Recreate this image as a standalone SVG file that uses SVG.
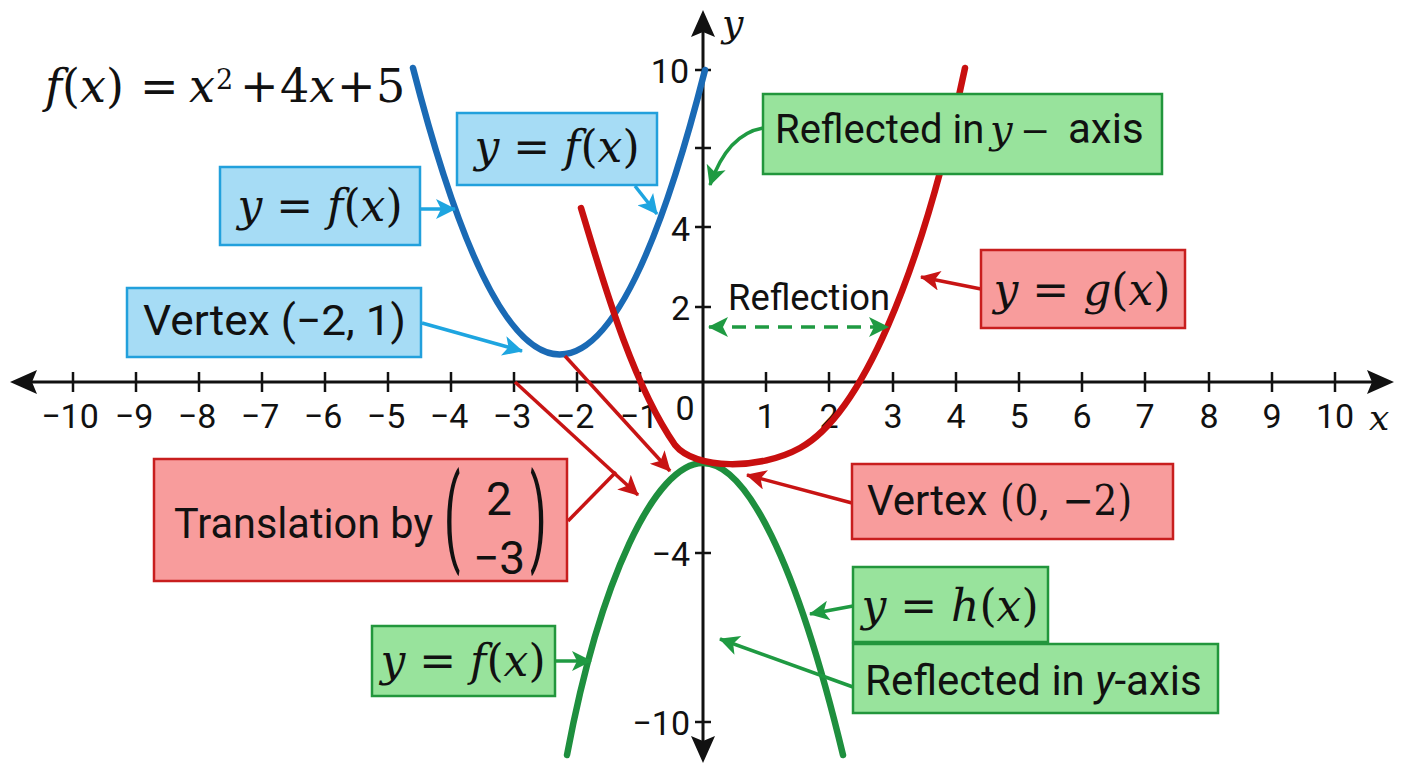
<svg xmlns="http://www.w3.org/2000/svg" width="1408" height="768" viewBox="0 0 1408 768">
<style>
.s{font-family:Roboto,'Liberation Sans',sans-serif;fill:#111}
.m{font-family:'DejaVu Serif','Liberation Serif',serif;fill:#111}
.i{font-style:italic}
.tick{stroke:#111;stroke-width:2.5;fill:none}
.lab{font-family:Roboto,'Liberation Sans',sans-serif;font-size:34px;fill:#111}
.bbox{fill:#a6dcf5;stroke:#22a0dc;stroke-width:2.5}
.rbox{fill:#f89c9c;stroke:#c81e1e;stroke-width:2.5}
.gbox{fill:#98e39c;stroke:#22963c;stroke-width:2.5}
.ab{stroke:#1ea5e0;stroke-width:3.5;fill:none;marker-end:url(#mb)}
.ar{stroke:#c81414;stroke-width:3.5;fill:none;marker-end:url(#mr)}
.ag{stroke:#1f9a42;stroke-width:3.5;fill:none;marker-end:url(#mg)}
.curve{fill:none;stroke-width:6.5;stroke-linecap:round}
</style>
<defs>
<marker id="mb" viewBox="0 0 10 10" refX="9.5" refY="5" markerWidth="24" markerHeight="20" markerUnits="userSpaceOnUse" orient="auto"><path d="M0,0 L10,5 L0,10 L2.5,5 z" fill="#1ea5e0"/></marker>
<marker id="mr" viewBox="0 0 10 10" refX="9.5" refY="5" markerWidth="24" markerHeight="20" markerUnits="userSpaceOnUse" orient="auto"><path d="M0,0 L10,5 L0,10 L2.5,5 z" fill="#c81414"/></marker>
<marker id="mg" viewBox="0 0 10 10" refX="9.5" refY="5" markerWidth="24" markerHeight="20" markerUnits="userSpaceOnUse" orient="auto-start-reverse"><path d="M0,0 L10,5 L0,10 L2.5,5 z" fill="#1f9a42"/></marker>
</defs>
<rect width="1408" height="768" fill="#ffffff"/>

<g id="axes">
<path d="M30,382 H1372 M703,32 V741" stroke="#111" stroke-width="3" fill="none"/>
<path d="M10,382 L37,370 L32,382 L37,394 z M1394,382 L1367,370 L1372,382 L1367,394 z M703,10 L691,37 L703,32 L715,37 z M703,763 L691,736 L703,741 L715,736 z" fill="#111"/>
<path class="tick" d="M73,372V392M136,372V392M199,372V392M262,372V392M325,372V392M388,372V392M451,372V392M514,372V392M577,372V392M640,372V392M766,372V392M829,372V392M893,372V392M956,372V392M1019,372V392M1082,372V392M1145,372V392M1209,372V392M1272,372V392M1335,372V392"/>
<path class="tick" d="M695,70H711M695,148H711M695,227H711M695,307H711M695,553H711M695,722H711"/>
<g class="lab" text-anchor="middle">
<text x="70" y="428">−10</text><text x="134" y="428">−9</text><text x="197" y="428">−8</text><text x="260" y="428">−7</text><text x="323" y="428">−6</text><text x="386" y="428">−5</text><text x="449" y="428">−4</text><text x="512" y="428">−3</text><text x="575" y="428">−2</text><text x="639" y="428">−1</text>
<text x="685" y="420">0</text>
<text x="766" y="428">1</text><text x="829" y="428">2</text><text x="893" y="428">3</text><text x="956" y="428">4</text><text x="1019" y="428">5</text><text x="1082" y="428">6</text><text x="1145" y="428">7</text><text x="1209" y="428">8</text><text x="1272" y="428">9</text><text x="1335" y="428">10</text>
</g>
<g class="lab" text-anchor="end">
<text x="689" y="83">10</text><text x="690" y="241">4</text><text x="690" y="320">2</text><text x="690" y="566">−4</text><text x="690" y="735">−10</text>
</g>
<text class="m i" x="722" y="36" font-size="38">y</text>
<text class="m i" x="1369" y="430" font-size="36">x</text>
</g>

<g id="curves">
<path id="curve-f" class="curve" stroke="#1a6ab5" d="M413,68 Q560,640 705,70"/>
<path id="curve-h" class="curve" stroke="#1e8f3e" d="M567,755 C600,580 655,463 703,463 C746,463 796,560 843,755"/>
<path id="curve-g" class="curve" stroke="#c80f0f" d="M581,208 C600,270 630,380 675,445 C695,470 760,470 800,448 C860,415 920,280 965,68"/>
</g>

<g id="connectors">
<path class="ab" d="M420,209 L455,209"/>
<path class="ab" d="M635,186 L657,214"/>
<path class="ab" d="M422,323 L522,351"/>
<path class="ar" d="M981,289 L921,277"/>
<path class="ar" d="M515,382 L638,495"/>
<path class="ar" d="M565,356 L670,471"/>
<path d="M568,521 L616,472" stroke="#c81414" stroke-width="3.5" fill="none"/>
<path class="ar" d="M852,503 L747,475"/>
<path class="ag" d="M763,128 C740,132 722,150 710,185"/>
<path d="M709,327 L888,327" stroke="#1f9a42" stroke-width="3.5" stroke-dasharray="14 9" fill="none" marker-start="url(#mg)" marker-end="url(#mg)"/>
<path class="ag" d="M853,606 L810,614"/>
<path class="ag" d="M853,687 L720,639"/>
<path class="ag" d="M555,661 L591,661"/>
</g>

<g id="title">
<text class="m" y="102" font-size="46"><tspan x="45" class="i">f</tspan><tspan>(</tspan><tspan class="i">x</tspan><tspan>)</tspan><tspan x="140">=</tspan><tspan x="189" class="i">x</tspan><tspan x="216" y="89" font-size="27">2</tspan><tspan x="240" y="102">+</tspan><tspan x="280">4</tspan><tspan class="i">x</tspan><tspan x="337">+</tspan><tspan x="376">5</tspan></text>
</g>

<g id="label-f-left">
<rect class="bbox" x="220" y="167" width="200" height="78"/>
<text class="m" x="320" y="221" font-size="44" text-anchor="middle"><tspan class="i">y</tspan> = <tspan class="i">f</tspan>(<tspan class="i">x</tspan>)</text>
</g>
<g id="label-f-top">
<rect class="bbox" x="457" y="113" width="200" height="72"/>
<text class="m" x="557" y="162" font-size="44" text-anchor="middle"><tspan class="i">y</tspan> = <tspan class="i">f</tspan>(<tspan class="i">x</tspan>)</text>
</g>
<g id="label-vertex-blue">
<rect class="bbox" x="127" y="288" width="294" height="69"/>
<text class="s" x="143" y="335" font-size="42" textLength="263" lengthAdjust="spacingAndGlyphs">Vertex (−2, 1)</text>
</g>
<g id="label-reflected-top">
<rect class="gbox" x="763" y="94" width="399" height="80"/>
<text y="143" font-size="40"><tspan class="s" x="775">Reflected in</tspan><tspan class="m i" x="990">y</tspan><tspan class="m" x="1020" font-size="36">−</tspan><tspan class="s" x="1068" font-size="42">axis</tspan></text>
</g>
<text class="s" x="728" y="310" font-size="36" textLength="162" lengthAdjust="spacingAndGlyphs">Reflection</text>
<g id="label-g">
<rect class="rbox" x="981" y="250" width="204" height="78"/>
<text class="m" x="1082" y="305" font-size="44" text-anchor="middle"><tspan class="i">y</tspan> = <tspan class="i">g</tspan>(<tspan class="i">x</tspan>)</text>
</g>
<g id="label-translation">
<rect class="rbox" x="154" y="459" width="413" height="122"/>
<text class="s" x="174" y="538" font-size="42" textLength="259" lengthAdjust="spacingAndGlyphs">Translation by</text>
<text class="s" font-size="48" transform="translate(444,552) scale(1,2.2)">(</text>
<text class="s" font-size="46" x="499" y="515" text-anchor="middle">2</text>
<text class="s" font-size="46" x="499" y="574" text-anchor="middle">−3</text>
<text class="s" font-size="48" transform="translate(530,552) scale(1,2.2)">)</text>
</g>
<g id="label-vertex-red">
<rect class="rbox" x="852" y="464" width="321" height="75"/>
<text y="515" font-size="42"><tspan class="s" x="867">Vertex</tspan><tspan class="m" x="1000" textLength="132" lengthAdjust="spacingAndGlyphs">(0, −2)</tspan></text>
</g>
<g id="label-h">
<rect class="gbox" x="853" y="567" width="195" height="75"/>
<text class="m" x="950" y="621" font-size="44" text-anchor="middle"><tspan class="i">y</tspan> = <tspan class="i">h</tspan>(<tspan class="i">x</tspan>)</text>
</g>
<g id="label-reflected-bottom">
<rect class="gbox" x="853" y="644" width="365" height="69"/>
<text class="s" x="865" y="695" font-size="42">Reflected in <tspan class="i">y</tspan>-axis</text>
</g>
<g id="label-f-bottom">
<rect class="gbox" x="372" y="626" width="183" height="70"/>
<text class="m" x="463" y="676" font-size="44" text-anchor="middle"><tspan class="i">y</tspan> = <tspan class="i">f</tspan>(<tspan class="i">x</tspan>)</text>
</g>
</svg>
